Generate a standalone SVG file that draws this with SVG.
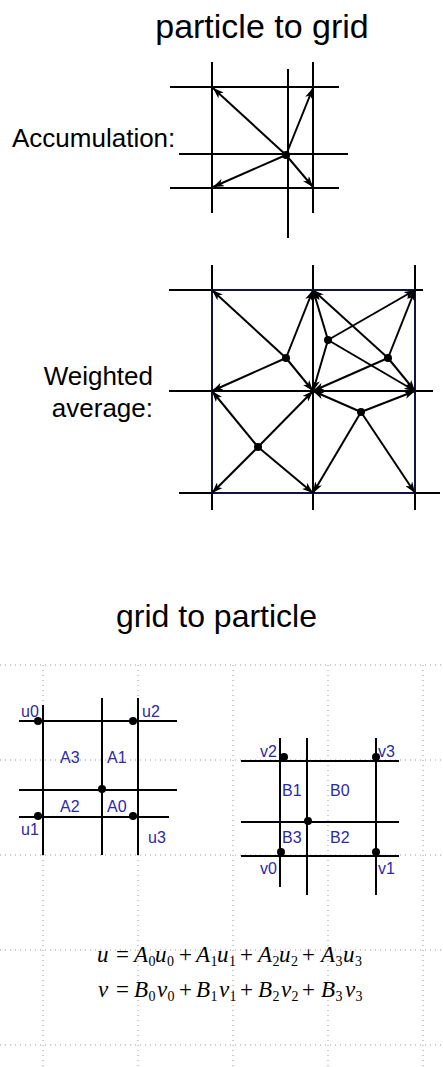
<svg xmlns="http://www.w3.org/2000/svg" width="443" height="1067" viewBox="0 0 443 1067">
<style>
.title{font-family:"Liberation Sans",Arial,sans-serif;fill:#000}
.lbl{font-family:"Liberation Sans",Arial,sans-serif;font-size:26px;fill:#000}
.grid line{stroke:#000;stroke-width:2}
.dots line{stroke:#999;stroke-width:1;stroke-dasharray:1 4}
.arr line{stroke:#000;stroke-width:2;marker-end:url(#ah)}
.pt{fill:#000}
.blue{font-family:"Liberation Sans",Arial,sans-serif;font-size:16px;fill:#2a2aa8}
.eq{font-family:"Liberation Serif","Times New Roman",serif;font-size:23px;fill:#000}
.v{font-style:italic}
.s{font-size:14px}
</style>
<defs>
<marker id="ah" markerUnits="userSpaceOnUse" markerWidth="12" markerHeight="8" refX="11" refY="4" orient="auto">
<path d="M0,0 L11,4 L0,8 L3,4 z" fill="#000"/>
</marker>
</defs>
<rect width="443" height="1067" fill="#fff"/>

<text class="title" x="262" y="38" font-size="34" text-anchor="middle">particle to grid</text>

<g id="accumulation">
<text class="lbl" x="12" y="147">Accumulation:</text>
<g class="grid">
<line x1="212" y1="62" x2="212" y2="213"/>
<line x1="288" y1="69" x2="288" y2="238"/>
<line x1="313" y1="62" x2="313" y2="213"/>
<line x1="170" y1="87" x2="339" y2="87"/>
<line x1="179" y1="154" x2="348" y2="154"/>
<line x1="170" y1="188" x2="339" y2="188"/>
</g>
<g class="arr">
<line x1="286" y1="155" x2="213" y2="88"/>
<line x1="286" y1="155" x2="313" y2="88"/>
<line x1="286" y1="155" x2="313" y2="187"/>
<line x1="286" y1="155" x2="213" y2="187"/>
</g>
<circle class="pt" cx="286" cy="155" r="4"/>
</g>

<g id="weighted-average">
<text class="lbl" x="153" y="385" text-anchor="end">Weighted</text>
<text class="lbl" x="153" y="417" text-anchor="end">average:</text>
<g class="grid">
<line x1="212" y1="265" x2="212" y2="510"/>
<line x1="313" y1="265" x2="313" y2="510"/>
<line x1="415" y1="265" x2="415" y2="510"/>
<line x1="169" y1="290" x2="423" y2="290"/>
<line x1="169" y1="391" x2="433" y2="391"/>
<line x1="179" y1="493" x2="440" y2="493"/>
</g>
<rect x="212" y="290" width="203" height="203" fill="none" stroke="#1a1a5a" stroke-width="1.5"/>
<g class="arr">
<line x1="286" y1="358" x2="212" y2="290"/>
<line x1="286" y1="358" x2="313" y2="290"/>
<line x1="286" y1="358" x2="212" y2="391"/>
<line x1="286" y1="358" x2="313" y2="391"/>
<line x1="328" y1="340" x2="313" y2="290"/>
<line x1="328" y1="340" x2="415" y2="290"/>
<line x1="328" y1="340" x2="313" y2="391"/>
<line x1="328" y1="340" x2="415" y2="391"/>
<line x1="388" y1="358" x2="313" y2="290"/>
<line x1="388" y1="358" x2="415" y2="290"/>
<line x1="388" y1="358" x2="313" y2="391"/>
<line x1="388" y1="358" x2="415" y2="391"/>
<line x1="361" y1="412" x2="313" y2="391"/>
<line x1="361" y1="412" x2="415" y2="391"/>
<line x1="361" y1="412" x2="313" y2="493"/>
<line x1="361" y1="412" x2="415" y2="493"/>
<line x1="258" y1="447" x2="212" y2="391"/>
<line x1="258" y1="447" x2="313" y2="391"/>
<line x1="258" y1="447" x2="212" y2="493"/>
<line x1="258" y1="447" x2="313" y2="493"/>
</g>
<circle class="pt" cx="286" cy="358" r="4"/>
<circle class="pt" cx="328" cy="340" r="4"/>
<circle class="pt" cx="388" cy="358" r="4"/>
<circle class="pt" cx="361" cy="412" r="4"/>
<circle class="pt" cx="258" cy="447" r="4"/>
</g>

<text class="title" x="216.5" y="627" font-size="32" text-anchor="middle">grid to particle</text>

<g id="dotted-grid" class="dots">
<line x1="0" y1="665" x2="443" y2="665"/>
<line x1="0" y1="760" x2="443" y2="760"/>
<line x1="0" y1="855" x2="443" y2="855"/>
<line x1="0" y1="950" x2="443" y2="950"/>
<line x1="0" y1="1045" x2="443" y2="1045"/>
<line x1="43" y1="665" x2="43" y2="1067"/>
<line x1="138" y1="665" x2="138" y2="1067"/>
<line x1="233" y1="665" x2="233" y2="1067"/>
<line x1="328" y1="665" x2="328" y2="1067"/>
<line x1="423" y1="665" x2="423" y2="1067"/>
</g>

<g id="u-grid">
<g class="grid">
<line x1="43" y1="705" x2="43" y2="855"/>
<line x1="102" y1="698" x2="102" y2="855"/>
<line x1="138" y1="698" x2="138" y2="855"/>
<line x1="19" y1="721" x2="177" y2="721"/>
<line x1="19" y1="790" x2="177" y2="790"/>
<line x1="19" y1="817" x2="169" y2="817"/>
</g>
<circle class="pt" cx="38" cy="721" r="4"/>
<circle class="pt" cx="133" cy="721" r="4"/>
<circle class="pt" cx="102" cy="789" r="4"/>
<circle class="pt" cx="38" cy="816" r="4"/>
<circle class="pt" cx="133" cy="816" r="4"/>
<text class="blue" x="21" y="717">u0</text>
<text class="blue" x="142" y="717">u2</text>
<text class="blue" x="60" y="763">A3</text>
<text class="blue" x="107" y="763">A1</text>
<text class="blue" x="60" y="812">A2</text>
<text class="blue" x="107" y="812">A0</text>
<text class="blue" x="21" y="835">u1</text>
<text class="blue" x="148" y="843">u3</text>
</g>

<g id="v-grid">
<g class="grid">
<line x1="280" y1="738" x2="280" y2="887"/>
<line x1="307" y1="738" x2="307" y2="895"/>
<line x1="376" y1="738" x2="376" y2="895"/>
<line x1="241" y1="761" x2="399" y2="761"/>
<line x1="241" y1="822" x2="399" y2="822"/>
<line x1="241" y1="856" x2="399" y2="856"/>
</g>
<circle class="pt" cx="284" cy="757" r="4"/>
<circle class="pt" cx="376" cy="757" r="4"/>
<circle class="pt" cx="308" cy="821" r="4"/>
<circle class="pt" cx="281" cy="852" r="4"/>
<circle class="pt" cx="376" cy="852" r="4"/>
<text class="blue" x="260" y="757">v2</text>
<text class="blue" x="378" y="757">v3</text>
<text class="blue" x="282" y="796">B1</text>
<text class="blue" x="330" y="796">B0</text>
<text class="blue" x="282" y="843">B3</text>
<text class="blue" x="330" y="843">B2</text>
<text class="blue" x="260" y="874">v0</text>
<text class="blue" x="378" y="874">v1</text>
</g>

<g id="equations">
<text class="eq"><tspan class="v" x="97" y="962">u</tspan><tspan x="116" y="962">=</tspan><tspan class="v" x="134" y="962">A</tspan><tspan class="s" x="148.5" y="966">0</tspan><tspan class="v" x="155" y="962">u</tspan><tspan class="s" x="167" y="966">0</tspan><tspan x="179" y="962">+</tspan><tspan class="v" x="196" y="962">A</tspan><tspan class="s" x="210.5" y="966">1</tspan><tspan class="v" x="217" y="962">u</tspan><tspan class="s" x="229" y="966">1</tspan><tspan x="240" y="962">+</tspan><tspan class="v" x="258" y="962">A</tspan><tspan class="s" x="272.5" y="966">2</tspan><tspan class="v" x="279" y="962">u</tspan><tspan class="s" x="291" y="966">2</tspan><tspan x="302" y="962">+</tspan><tspan class="v" x="321" y="962">A</tspan><tspan class="s" x="335.5" y="966">3</tspan><tspan class="v" x="343" y="962">u</tspan><tspan class="s" x="355" y="966">3</tspan></text>
<text class="eq"><tspan class="v" x="98" y="997">v</tspan><tspan x="116" y="997">=</tspan><tspan class="v" x="134" y="997">B</tspan><tspan class="s" x="148.5" y="1001">0</tspan><tspan class="v" x="157" y="997">v</tspan><tspan class="s" x="167.5" y="1001">0</tspan><tspan x="179" y="997">+</tspan><tspan class="v" x="196" y="997">B</tspan><tspan class="s" x="210.5" y="1001">1</tspan><tspan class="v" x="219" y="997">v</tspan><tspan class="s" x="229.5" y="1001">1</tspan><tspan x="240" y="997">+</tspan><tspan class="v" x="258" y="997">B</tspan><tspan class="s" x="272.5" y="1001">2</tspan><tspan class="v" x="281" y="997">v</tspan><tspan class="s" x="291.5" y="1001">2</tspan><tspan x="302" y="997">+</tspan><tspan class="v" x="321" y="997">B</tspan><tspan class="s" x="335.5" y="1001">3</tspan><tspan class="v" x="345" y="997">v</tspan><tspan class="s" x="355.5" y="1001">3</tspan></text>
</g>
</svg>
